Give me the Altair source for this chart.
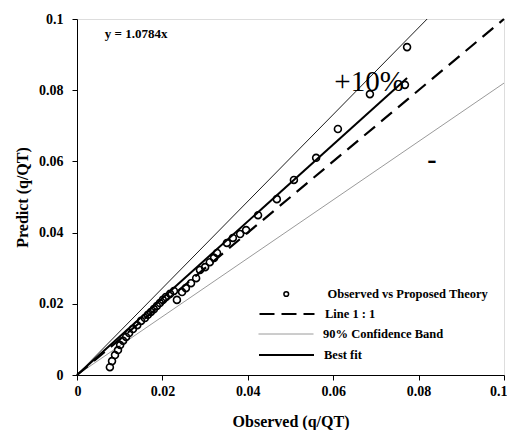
import altair as alt
import pandas as pd

# Observed vs predicted points
obs_x = [0.0077, 0.0082, 0.0089, 0.0096, 0.0101, 0.0108, 0.0115, 0.0122, 0.0131, 0.0141,
         0.0150, 0.0159, 0.0166, 0.0173, 0.0180, 0.0187, 0.0194, 0.0201, 0.0208, 0.0218,
         0.0227, 0.0234, 0.0246, 0.0255, 0.0267, 0.0279, 0.0288, 0.0300, 0.0311, 0.0321,
         0.0328, 0.0351, 0.0365, 0.0382, 0.0396, 0.0424, 0.0468, 0.0508, 0.0560, 0.0611,
         0.0686, 0.0768, 0.0773]
obs_y = [0.0022, 0.0039, 0.0056, 0.0070, 0.0084, 0.0096, 0.0107, 0.0118, 0.0129, 0.0140,
         0.0152, 0.0160, 0.0169, 0.0177, 0.0185, 0.0194, 0.0202, 0.0211, 0.0219, 0.0228,
         0.0236, 0.0211, 0.0233, 0.0244, 0.0258, 0.0272, 0.0295, 0.0303, 0.0317, 0.0329,
         0.0343, 0.0371, 0.0385, 0.0396, 0.0407, 0.0449, 0.0494, 0.0548, 0.0610, 0.0691,
         0.0789, 0.0815, 0.0921]

series_names = ["Observed vs Proposed Theory", "Line 1 : 1", "90% Confidence Band", "Best fit"]
series_colors = ["black", "black", "#808080", "black"]

line11_x = [0.0, 0.1]
line11_y = [0.0, 0.1]
upper_x = [0.0, 0.082]
upper_y = [0.0, 0.1]
lower_x = [0.0, 0.1]
lower_y = [0.0, 0.082]
fit_x = [0.0, 0.0773]
fit_y = [0.0, 0.0834]

ticks = [0, 0.02, 0.04, 0.06, 0.08, 0.1]

ann_text = ["y = 1.0784x", "+10%", "-"]
ann_x = [0.0065, 0.0684, 0.0831]
ann_y = [0.0958, 0.0823, 0.0603]

FONT = "Liberation Serif"

points_df = pd.DataFrame({"x": obs_x, "y": obs_y, "series": series_names[0]})
line11_df = pd.DataFrame({"x": line11_x, "y": line11_y, "series": series_names[1]})
lower_df = pd.DataFrame({"x": lower_x, "y": lower_y, "series": series_names[2]})
fit_df = pd.DataFrame({"x": fit_x, "y": fit_y, "series": series_names[3]})
upper_df = pd.DataFrame({"x": upper_x, "y": upper_y})


def make_legend(y, x, stype, ssize, swidth, loff, dash=None):
    kw = dict(
        title=None, orient="none", legendX=x, legendY=y,
        symbolType=stype, symbolSize=ssize, symbolStrokeWidth=swidth,
        clipHeight=20, labelOffset=loff, labelFont=FONT, labelFontWeight="bold",
        labelFontSize=12.5, labelColor="black", labelLimit=400, padding=0, symbolOpacity=1,
    )
    if dash is not None:
        kw["symbolDash"] = dash
    return alt.Legend(**kw)


def color_for(i, legend):
    return alt.Color("series:N",
                     scale=alt.Scale(domain=[series_names[i]], range=[series_colors[i]]),
                     legend=legend)


xs = alt.Scale(domain=[0, 0.1], nice=False)
ys = alt.Scale(domain=[0, 0.1], nice=False)

x_enc = alt.X("x:Q", scale=xs, axis=alt.Axis(
    values=ticks, format="~g", title="Observed (q/QT)", grid=False,
    labelFont=FONT, labelFontWeight="bold", labelFontSize=14, labelColor="black",
    titleFont=FONT, titleFontWeight="bold", titleFontSize=16, titleColor="black",
    domainColor="black", tickColor="black", tickSize=5, labelPadding=4, titlePadding=15,
    labelFlush=True, labelFlushOffset=3))
y_enc = alt.Y("y:Q", scale=ys, axis=alt.Axis(
    values=ticks, format="~g", title="Predict (q/QT)", grid=False,
    labelFont=FONT, labelFontWeight="bold", labelFontSize=14, labelColor="black",
    titleFont=FONT, titleFontWeight="bold", titleFontSize=16, titleColor="black",
    domainColor="black", tickColor="black", tickSize=5, labelPadding=9, titlePadding=8,
    labelFlush=False))

upper = alt.Chart(upper_df).mark_line(color="black", strokeWidth=0.9).encode(x=x_enc, y=y_enc)
pts = alt.Chart(points_df).mark_point(filled=False, size=48, strokeWidth=1.6, opacity=1).encode(
    x="x:Q", y="y:Q",
    color=color_for(0, make_legend(265, 203, "circle", 22, 1.5, 35)))
line11 = alt.Chart(line11_df).mark_line(strokeWidth=2.2, strokeDash=[14, 8]).encode(
    x="x:Q", y="y:Q",
    color=color_for(1, make_legend(285, 181, "stroke", 3025, 2.2, 9, [15, 7])))
lower = alt.Chart(lower_df).mark_line(strokeWidth=0.8).encode(
    x="x:Q", y="y:Q",
    color=color_for(2, make_legend(305, 181, "stroke", 3025, 0.8, 9)))
fit = alt.Chart(fit_df).mark_line(strokeWidth=2).encode(
    x="x:Q", y="y:Q",
    color=color_for(3, make_legend(326, 181, "stroke", 3025, 2, 9)))

ann_df = pd.DataFrame({"t": ann_text, "x": ann_x, "y": ann_y})
eq = alt.Chart(ann_df.iloc[[0]]).mark_text(
    font=FONT, fontWeight="bold", fontSize=13, align="left", baseline="middle", color="black"
).encode(x="x:Q", y="y:Q", text="t:N")
plus = alt.Chart(ann_df.iloc[[1]]).mark_text(
    font=FONT, fontSize=29, align="center", baseline="middle", color="black"
).encode(x="x:Q", y="y:Q", text="t:N")
minus = alt.Chart(ann_df.iloc[[2]]).mark_text(
    font=FONT, fontWeight="bold", fontSize=28, align="center", baseline="middle", color="black"
).encode(x="x:Q", y="y:Q", text="t:N")

chart = alt.layer(upper, lower, line11, fit, pts, eq, plus, minus).resolve_scale(
    color="independent"
).properties(
    width=427, height=356,
    autosize=alt.AutoSizeParams(type="none"),
    padding={"left": 69, "top": 11, "right": 3, "bottom": 55},
).configure_view(stroke="black", strokeWidth=1).configure(background="white")

chart.save("out.html", embed_options={"renderer": "svg", "actions": False})
